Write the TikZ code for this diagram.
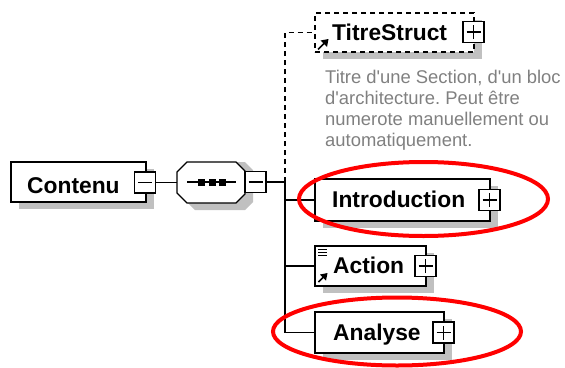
\documentclass[tikz,border=0pt]{standalone}
\usepackage{fontspec}
\setmainfont{Liberation Sans}[Ligatures=TeXOff]
\usetikzlibrary{shadows}
\definecolor{shadowgray}{RGB}{192,192,192}
\definecolor{descgray}{RGB}{128,128,128}
\definecolor{markred}{RGB}{255,0,0}
\tikzset{
  elbox/.style={draw=black, fill=white, line width=1.3pt, rectangle, inner sep=0pt,
    drop shadow={shadow xshift=8pt, shadow yshift=-7pt, fill=shadowgray, opacity=1}},
  pmbox/.style={draw=black, fill=white, line width=1.3pt, rectangle, inner sep=0pt, minimum size=21pt},
  minusbox/.style={pmbox, path picture={
    \draw[line width=1.8pt] ([xshift=-7pt]path picture bounding box.center) -- ([xshift=7pt]path picture bounding box.center);}},
  plusbox/.style={pmbox, path picture={
    \draw[line width=1.8pt] ([xshift=-7pt]path picture bounding box.center) -- ([xshift=7pt]path picture bounding box.center);
    \draw[line width=1.8pt] ([yshift=-7pt]path picture bounding box.center) -- ([yshift=7pt]path picture bounding box.center);}},
  lbl/.style={anchor=base west, inner sep=0pt, font=\fontsize{22.8}{27}\selectfont\bfseries},
  desc/.style={anchor=base west, inner sep=0pt, text=descgray, font=\fontsize{18.4}{21}\selectfont\frenchspacing},
  conn/.style={line width=1.3pt, black},
  dashconn/.style={line width=1.3pt, black, dash pattern=on 5pt off 4pt},
  redring/.style={markred, line width=4pt},
  refarrow/.style={line width=1.6pt, black},
}
\begin{document}
\begin{tikzpicture}[x=1pt,y=-1pt]
\useasboundingbox (0,0) rectangle (565,367);

% ---- Contenu
\node[elbox, minimum width=135pt, minimum height=40pt] (contenu) at (78.5,182) {};
\node[lbl] (contenu-t) at (27,193) {Contenu};
\node[minusbox] (contenu-m) at (145,182.5) {};

% ---- sequence compositor (octagon)
\fill[shadowgray] (185,172) -- (195,162) -- (245,162) -- (253,170) -- (253,202) -- (245,210) -- (195,210) -- (185,200) -- cycle;
\draw[line width=1.3pt, fill=white] (177,172) -- (187,162) -- (236,162) -- (245,171) -- (245,194) -- (236,203) -- (187,203) -- (177,193) -- cycle;
\node[minimum width=68pt, minimum height=41pt, inner sep=0pt] (seq) at (211,182.5) {};
\draw[line width=1.3pt] (187,182) -- (236,182);
\foreach \sx in {201,212,222} { \fill (\sx-3.5,179) rectangle (\sx+3.5,185.5); }
\node[minusbox] (seq-m) at (255.5,182) {};

% ---- connectors
\draw[conn] (contenu-m.east) -- (seq.west);
\coordinate (j) at (285,182);
\draw[conn] (seq-m.east) -- (j);

% ---- TitreStruct (optional)
\node[elbox, dash pattern=on 5pt off 4pt, minimum width=159pt, minimum height=39pt] (titre) at (394.5,32.5) {};
\node[lbl] (titre-t) at (332,40.5) {TitreStruct};
\node[plusbox] (titre-p) at (473.5,32) {};
\draw[refarrow] (318,49.5) -- (324.5,43);
\fill (328.5,39) -- (320.5,40.5) -- (327,47) -- cycle;
\draw[dashconn] (j) |- (titre.west);

\node[desc] (desc1) at (325,83) {Titre d'une Section, d'un bloc};
\node[desc] (desc2) at (325,104.5) {d'architecture. Peut être};
\node[desc] (desc3) at (325,125.5) {numerote manuellement ou};
\node[desc] (desc4) at (325,146.5) {automatiquement.};

% ---- Introduction
\node[elbox, minimum width=175pt, minimum height=42pt] (intro) at (402.5,200) {};
\node[lbl] (intro-t) at (332,207) {Introduction};
\node[plusbox] (intro-p) at (489.5,200) {};

% ---- Action
\node[elbox, minimum width=111pt, minimum height=40pt] (action) at (370.5,266) {};
\node[lbl] (action-t) at (333,273) {Action};
\node[plusbox] (action-p) at (425.5,266) {};
\draw[line width=1pt] (318,249) -- (327,249) (318,252) -- (327,252) (318,255) -- (327,255);
\draw[refarrow] (318.5,282) -- (324,276.5);
\fill (327.5,273) -- (320,274.5) -- (326,280.5) -- cycle;

% ---- Analyse
\node[elbox, minimum width=129pt, minimum height=41pt] (analyse) at (379.5,332.5) {};
\node[lbl] (analyse-t) at (333,340) {Analyse};
\node[plusbox] (analyse-p) at (443.5,332.5) {};

% ---- trunk & branches
\draw[conn] (j) |- (analyse.west);
\draw[conn] (j |- intro.west) -- (intro.west);
\draw[conn] (j |- action.west) -- (action.west);

% ---- red highlight ellipses
\draw[redring] (423.5,199) ellipse [x radius=124.5, y radius=37];
\draw[redring] (397,331.5) ellipse [x radius=124, y radius=34];
\end{tikzpicture}
\end{document}
